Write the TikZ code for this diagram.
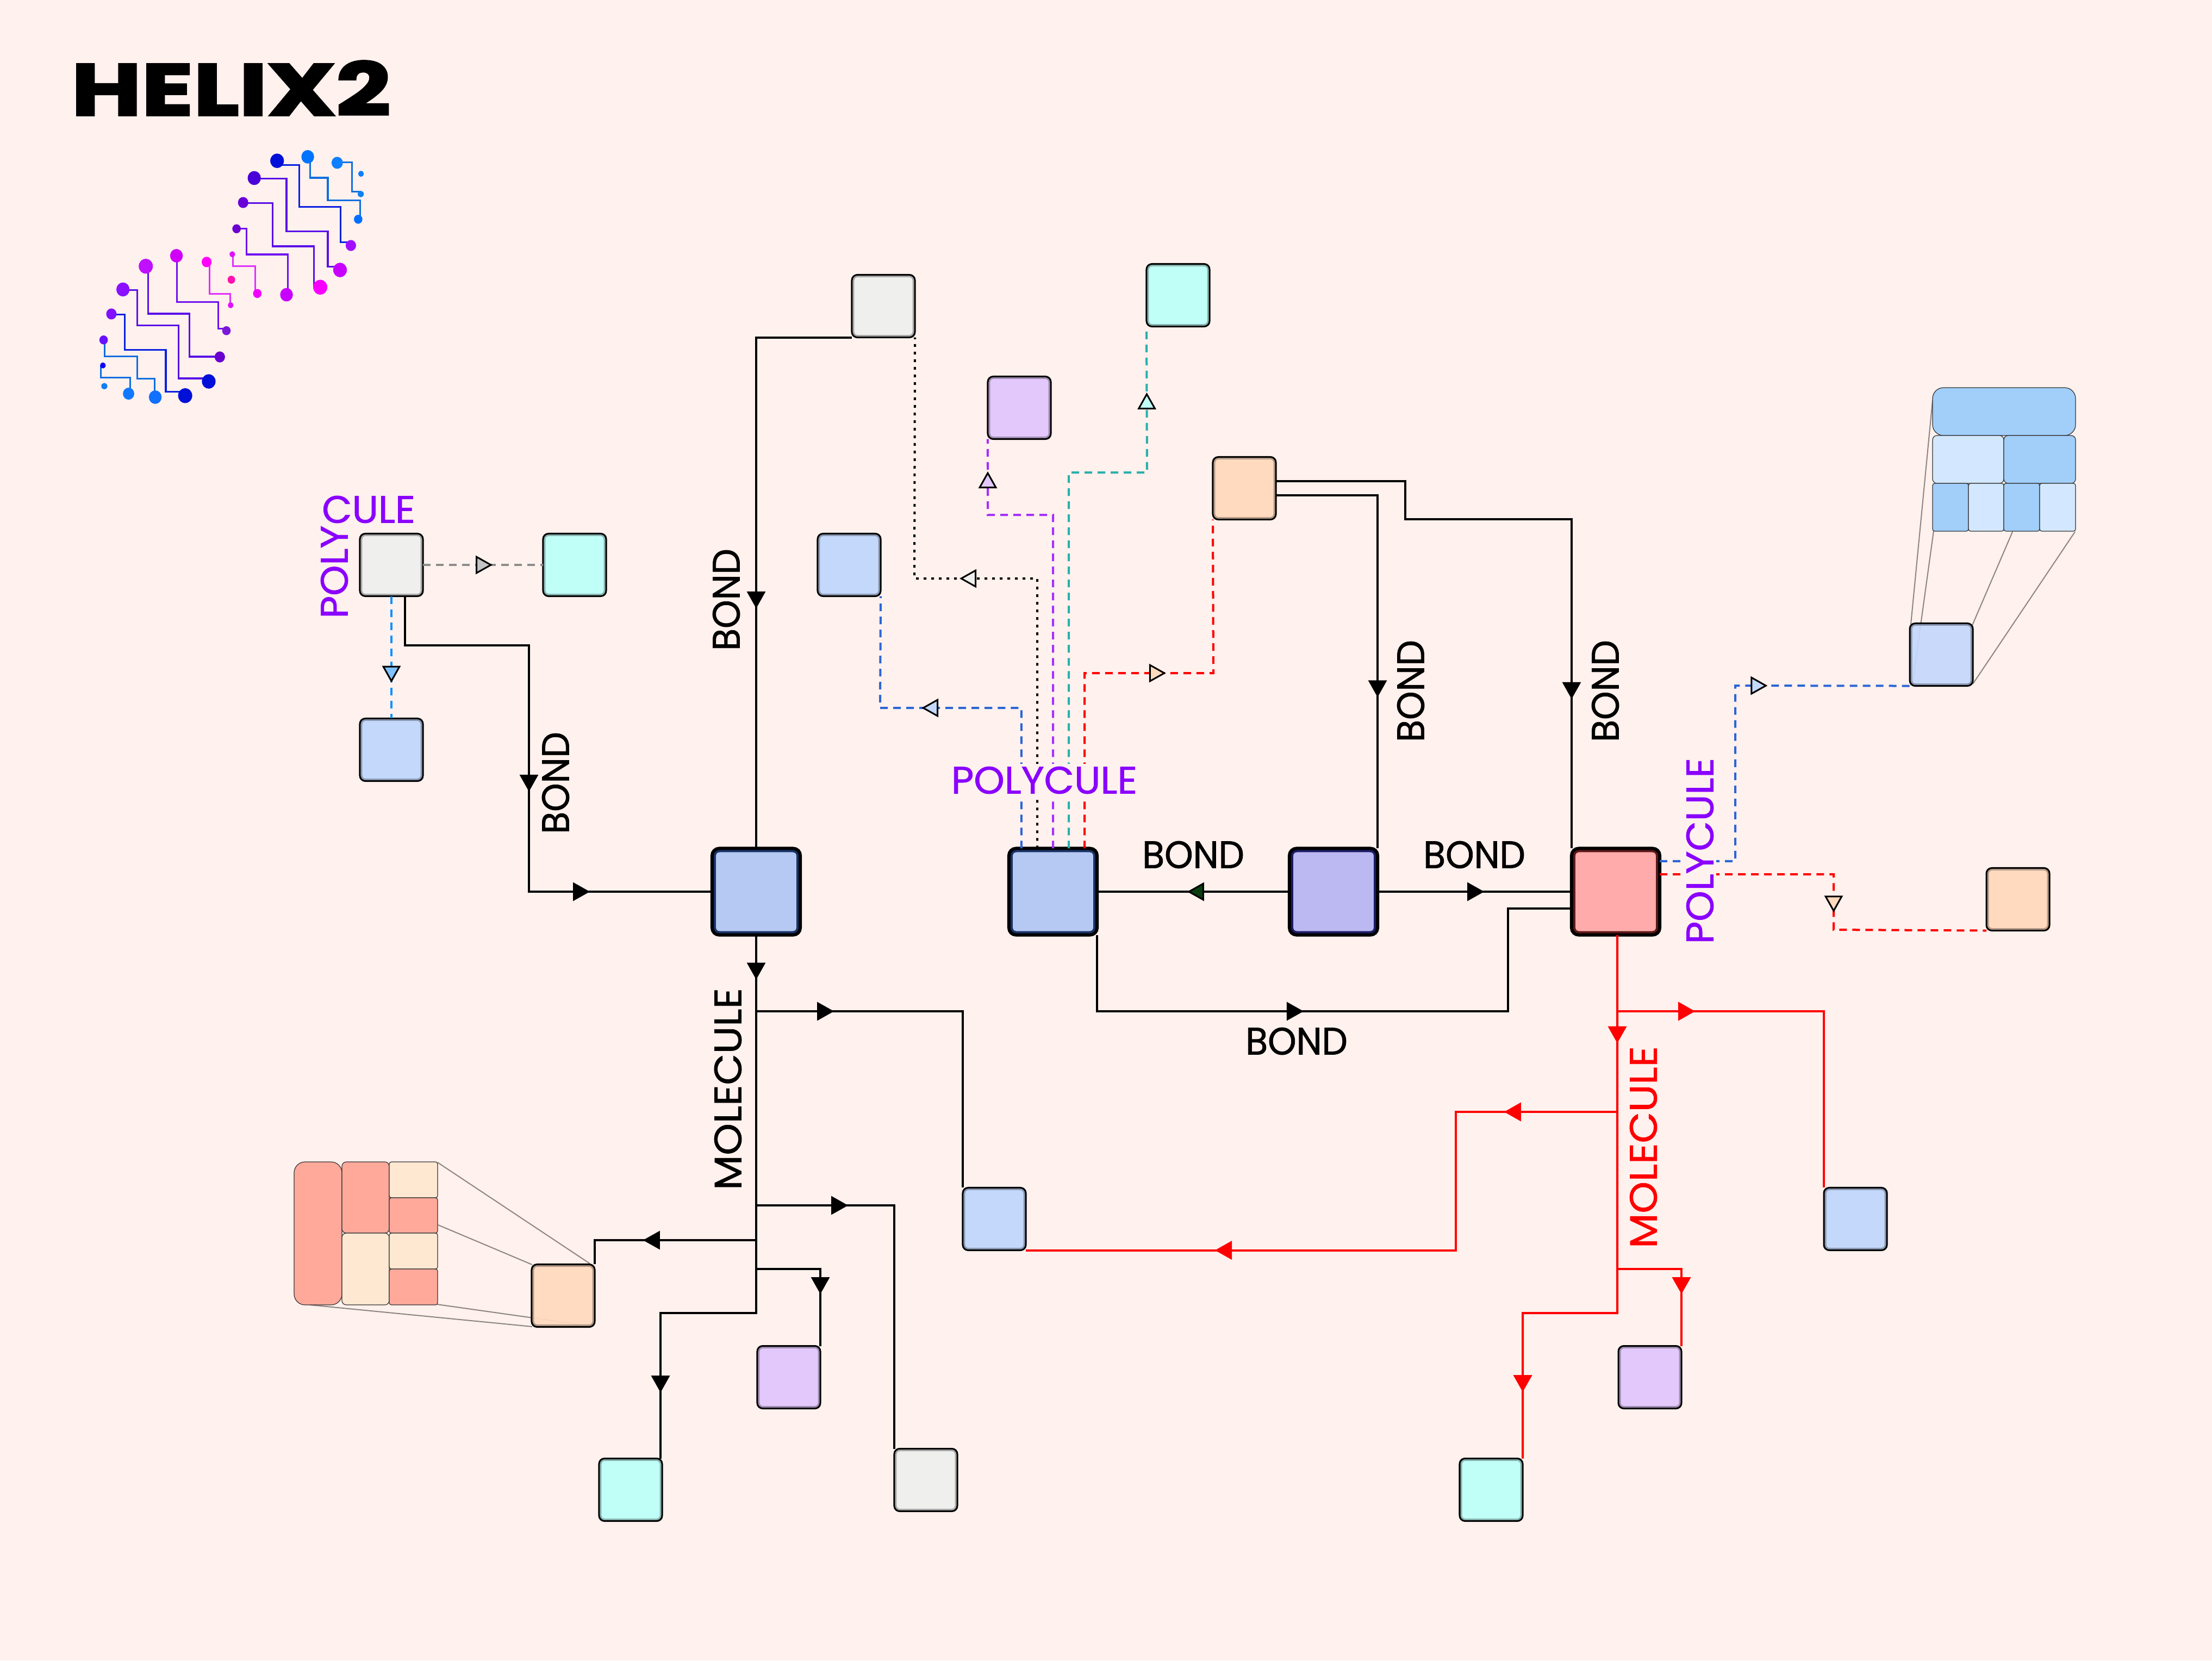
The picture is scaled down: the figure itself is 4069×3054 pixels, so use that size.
\documentclass[tikz,border=0pt]{standalone}
\usepackage{fontspec}
\setmainfont{Poppins}
\newfontfamily\titlefont[FakeBold=3,FakeStretch=1.32]{Poppins}
\newfontfamily\polyfont[FakeBold=1.1,FakeStretch=1.02]{Poppins}
\newfontfamily\bondfont[FakeBold=1.1,FakeStretch=0.95]{Poppins}
\newfontfamily\molfont[FakeBold=1.1,FakeStretch=1.06]{Poppins}
\usetikzlibrary{arrows.meta,decorations.markings}

\definecolor{paper}{HTML}{FFF1ED}
\definecolor{boxblue}{HTML}{C4D8FC}
\definecolor{boxgray}{HTML}{EFEFEE}
\definecolor{boxteal}{HTML}{C0FFF8}
\definecolor{boxpurple}{HTML}{E3C8FB}
\definecolor{boxorange}{HTML}{FFDABF}
\definecolor{bigblue}{HTML}{B5C9F3}
\definecolor{bigviolet}{HTML}{BCB8F2}
\definecolor{bigred}{HTML}{FFABAB}
\definecolor{bandblue}{HTML}{1A3366}
\definecolor{bandviolet}{HTML}{1C1C66}
\definecolor{bandred}{HTML}{5C1818}
\definecolor{cellblue}{HTML}{A2CFFA}
\definecolor{cellpale}{HTML}{D3E8FF}
\definecolor{cellred}{HTML}{FFA99B}
\definecolor{cellcream}{HTML}{FFE8D2}
\definecolor{polyviolet}{HTML}{8A00FF}
\definecolor{darktip}{HTML}{0A3D10}
\definecolor{linkgray}{HTML}{8C8C8C}
\definecolor{tipgray}{HTML}{C4C4C4}
\definecolor{linksky}{HTML}{0A90FF}
\definecolor{tipsky}{HTML}{7FC2FF}
\definecolor{linkblue}{HTML}{2B66D6}
\definecolor{linkpurple}{HTML}{A530FF}
\definecolor{linkteal}{HTML}{2AB0AC}
\definecolor{wireA}{HTML}{0F6FE0}
\definecolor{wireB}{HTML}{0A20E0}
\definecolor{wireC}{HTML}{5A10E8}
\definecolor{wireD}{HTML}{7010F0}
\definecolor{wireE}{HTML}{E030FF}

\newcommand{\logodot}[4]{\fill[#1] (#2,#3) circle[radius=#4];}
\newcommand{\logowire}[2]{\draw[#1, line width=0.032cm] #2;}

\begin{document}
\begin{tikzpicture}[
    x=0.01cm, y=-0.01cm,
    smallbox/.style={draw=black, line width=0.03cm, outer sep=0pt, rounded corners=0.1cm,
                     minimum width=1.16cm, minimum height=1.15cm, fill=#1,
                     path picture={\draw[#1!70!black, line width=0.09cm, rounded corners=0.1cm]
                       (path picture bounding box.south west) rectangle (path picture bounding box.north east);}},
    bigbox/.style 2 args={draw=black, line width=0.06cm, outer sep=0pt, rounded corners=0.13cm,
                     minimum width=1.62cm, minimum height=1.59cm, fill=#1,
                     path picture={\draw[#2, line width=0.14cm, rounded corners=0.13cm]
                       (path picture bounding box.south west) rectangle (path picture bounding box.north east);}},
    cell/.style 2 args={draw=black!80, line width=0.012cm, fill=#1, rounded corners=#2},
    leader/.style={draw=black!45!paper, line width=0.02cm},
    bond/.style={draw=black, line width=0.04cm},
    redbond/.style={draw=red, line width=0.04cm},
    dashline/.style={draw=#1, line width=0.04cm, dash pattern=on 0.14cm off 0.10cm},
    dotline/.style={draw=black, line width=0.04cm, dash pattern=on 0.05cm off 0.09cm},
    tipat/.style 2 args={postaction={decorate, decoration={markings, mark=at position #1cm with
        {\arrow{Triangle[length=0.31cm, width=0.34cm, line width=0.03cm, fill=#2, color=black]}}}}},
    redtip/.style={postaction={decorate, decoration={markings, mark=at position #1cm with
        {\arrow{Triangle[length=0.31cm, width=0.34cm, fill=red, color=red]}}}}},
    polytxt/.style={font=\polyfont\fontsize{20}{20}\selectfont, inner sep=0pt, text=polyviolet},
    bondtxt/.style={font=\bondfont\fontsize{20}{20}\selectfont, inner sep=0pt, text=black},
    moltxt/.style={font=\molfont\fontsize{20}{20}\selectfont, inner sep=0pt, text=#1},
    bgtxt/.style={polytxt, fill=paper!92!white, inner sep=0.05cm}
  ]
  \fill[paper] (0,0) rectangle (4069,3054);
  \useasboundingbox (0,0) rectangle (4069,3054);

  % title and logo
  \node[font=\titlefont\bfseries\fontsize{38}{38}\selectfont, inner sep=0pt] (title) at (425,162) {HELIX2};
  \begin{scope}[shift={(100,60)}, x=0.004337cm, y=-0.004591cm]
    \logowire{wireA}{(1085,497) |- (1160,581) |- (1298,672) -- (1298,745)}
    \logowire{wireA}{(1200,519) -| (1263,637) -- (1298,637)}
    \logowire{wireB}{(945,530) -| (1039,698) -| (1214,838) -- (1258,838)}
    \logowire{wireC}{(848,584) -| (985,796) -| (1160,937) -- (1212,937)}
    \logowire{wireC}{(801,682) -| (926,855) -| (1102,1020)}
    \logowire{wireD}{(773,785) -| (816,888) -| (991,1049)}
    \logowire{wireE}{(758,887) |- (852,935) -- (852,1044)}
    \logowire{wireE}{(659,918) |- (747,1045) -- (747,1091)}
    \logowire{wireD}{(520,893) |- (695,1079) |- (730,1185)}
    \logowire{wireC}{(397,935) |- (573,1125) |- (702,1297)}
    \logowire{wireC}{(291,1030) -| (352,1171) -| (527,1384) -- (655,1384)}
    \logowire{wireB}{(242,1128) -| (298,1269) -| (473,1437) -- (555,1437)}
    \logowire{wireA}{(214,1230) |- (351,1295) |- (426,1385) -- (426,1460)}
    \logowire{wireA}{(198,1332) |- (322,1381) -- (322,1445)}
    \foreach \cx/\cy/\cr/\ccol in {1075/497/27/0073FF, 1289/747/18/006FFF, 1200/521/24/0F7FFF, 1300/646/13/0F80F0,
        1301/565/12/0A80FF, 945/513/29/0010D8, 1258/852/22/A010FF, 848/582/28/4A00D8, 1212/950/29/C800FF,
        801/680/22/6A00D8, 1128/1019/30/F800FF, 773/785/18/6A00D0, 985/1049/27/C800FF, 755/887/12/E010FF,
        861/1044/18/F000FF, 751/989/16/FF10B0, 646/918/21/FF00FF, 748/1091/12/E010FF, 518/893/27/D000F8,
        730/1193/18/7A18D8, 388/935/30/C010FF, 702/1298/22/6A00D0, 291/1028/28/8A10FF, 655/1396/29/0010D8,
        242/1126/22/8010FF, 555/1453/30/0010D8, 209/1230/18/6A10FF, 428/1459/27/1070FF, 206/1332/12/1000FF,
        315/1445/24/1078FF, 212/1415/13/1080F0} {
      \definecolor{dotcol}{HTML}{\ccol}
      \logodot{dotcol}{\cx}{\cy}{\cr}
    }
  \end{scope}

  % blocks
  \node[bigbox={bigblue}{bandblue}] (b1) at (1391,1640) {};
  \node[bigbox={bigblue}{bandblue}] (b2) at (1937,1640) {};
  \node[bigbox={bigviolet}{bandviolet}] (b3) at (2453,1640) {};
  \node[bigbox={bigred}{bandred}] (b4) at (2972,1640) {};

  \node[smallbox=boxgray] (grayTop) at (1625,563) {};
  \node[smallbox=boxteal] (tealTop) at (2167,543) {};
  \node[smallbox=boxpurple] (purpleA) at (1875,750) {};
  \node[smallbox=boxorange] (orangeA) at (2289,898) {};
  \node[smallbox=boxblue] (blueA) at (1562,1039) {};
  \node[smallbox=boxgray] (grayB) at (720,1039) {};
  \node[smallbox=boxteal] (tealB) at (1057,1039) {};
  \node[smallbox=boxblue] (blueB) at (720,1379) {};
  \node[smallbox=boxblue] (blueC) at (1829,2242) {};
  \node[smallbox=boxgray] (grayC) at (1703,2722) {};
  \node[smallbox=boxpurple] (purpleB) at (1451,2533) {};
  \node[smallbox=boxteal] (tealC) at (1160,2740) {};
  \node[smallbox=boxblue] (blueD) at (3413,2242) {};
  \node[smallbox=boxpurple] (purpleC) at (3035,2533) {};
  \node[smallbox=boxteal] (tealD) at (2743,2740) {};
  \node[smallbox=boxorange] (orangeC) at (3712,1654) {};

  % zoomed cells, top right
  \draw[leader] (3515,1148) -- (3555,736);
  \draw[leader] (3518,1258) -- (3557,976);
  \draw[leader] (3628,1150) -- (3702,978);
  \draw[leader] (3629,1258) -- (3817,978);
  \node[smallbox=boxblue, fill opacity=.93] (blueE) at (3571,1204) {};
  \draw[cell={cellblue}{0.2cm}] (3555,713) rectangle (3818,801);
  \draw[cell={cellpale}{0.08cm}] (3555,801) rectangle (3686,889);
  \draw[cell={cellblue}{0.08cm}] (3686,801) rectangle (3818,889);
  \draw[cell={cellblue}{0.04cm}] (3555,889) rectangle (3621,977);
  \draw[cell={cellpale}{0.04cm}] (3621,889) rectangle (3686,977);
  \draw[cell={cellblue}{0.04cm}] (3686,889) rectangle (3752,977);
  \draw[cell={cellpale}{0.04cm}] (3752,889) rectangle (3818,977);

  % zoomed cells, bottom left
  \draw[leader] (805,2138) -- (1085,2324);
  \draw[leader] (806,2253) -- (979,2326);
  \draw[leader] (804,2399) -- (1080,2438);
  \draw[leader] (570,2400) -- (979,2440);
  \node[smallbox=boxorange, fill opacity=.93] (orangeB) at (1036,2383) {};
  \draw[cell={cellred}{0.2cm}] (541,2137) rectangle (629,2400);
  \draw[cell={cellred}{0.08cm}] (629,2137) rectangle (716,2268);
  \draw[cell={cellcream}{0.08cm}] (629,2268) rectangle (716,2400);
  \draw[cell={cellcream}{0.04cm}] (716,2137) rectangle (805,2203);
  \draw[cell={cellred}{0.04cm}] (716,2203) rectangle (805,2268);
  \draw[cell={cellcream}{0.04cm}] (716,2268) rectangle (805,2334);
  \draw[cell={cellred}{0.04cm}] (716,2334) rectangle (805,2400);

  % junctions
  \coordinate (mA) at (1391,1860);
  \coordinate (mB) at (1391,2217);
  \coordinate (mC) at (1391,2281);
  \coordinate (mD) at (1391,2334);
  \coordinate (mE) at (1391,2415);
  \coordinate (rA) at (2975,1860);
  \coordinate (rB) at (2975,2045);
  \coordinate (rD) at (2975,2334);
  \coordinate (rE) at (2975,2415);

  % bonds
  \draw[bond, tipat={6.74}{black}] (grayTop.south west) -| (b1.north);
  \draw[bond, tipat={5.87}{black}, tipat={8.83}{black}] ([xshift=0.25cm]grayB.south) |- (973,1187) |- (b1.west);
  \draw[bond, tipat={9.44}{black}] ([yshift=0.13cm]orangeA.east) -| (2585,955) -| (b4.north west);
  \draw[bond, tipat={5.58}{black}] ([yshift=-0.13cm]orangeA.east) -| (b3.north east);
  \draw[bond, tipat={1.88}{darktip}] (b3.west) -- (b2.east);
  \draw[bond, tipat={1.96}{black}] (b3.east) -- (b4.west);
  \draw[bond, tipat={5.20}{black}] (b2.south east) |- (2774,1860) |- ([yshift=-0.31cm]b4.west);

  % molecule, black
  \draw[bond, tipat={0.82}{black}, tipat={10.17}{black}] (b1.south) -- (mE) -| ([xshift=0.55cm]tealC.north);
  \draw[bond, tipat={1.43}{black}] (mA) -| (blueC.north west);
  \draw[bond, tipat={1.69}{black}] (mB) -| (grayC.north west);
  \draw[bond, tipat={2.08}{black}] (mC) -| (orangeB.north east);
  \draw[bond, tipat={1.64}{black}] (mD) -| (purpleB.north east);

  % molecule, red
  \draw[redbond, redtip={1.99}, redtip={10.14}] ([xshift=0.03cm]b4.south) -- (rE) -| (tealD.north east);
  \draw[redbond, redtip={1.43}] (rA) -| (blueD.north west);
  \draw[redbond, redtip={2.08}, redtip={9.94}] (rB) -- (2678,2045) |- (blueC.south east);
  \draw[redbond, redtip={1.64}] (rD) -| (purpleC.north east);

  % polycule links
  \draw[dashline=linkgray, tipat={1.28}{tipgray}] (grayB.east) -- (tealB.west);
  \draw[dashline=linksky, tipat={1.59}{tipsky}] (grayB.south) -- (blueB.north);
  \draw[dashline=linkblue, tipat={4.42}{boxblue}] ([xshift=-0.58cm]b2.north) |- (1619,1302) -- (blueA.south east);
  \draw[dotline, tipat={6.39}{boxgray}] ([xshift=-0.29cm]b2.north) |- (1682,1064) -- (grayTop.south east);
  \draw[dashline=linkpurple, tipat={8.13}{boxpurple}] (b2.north) |- (1817,947) -- (purpleA.south west);
  \draw[dashline=linkteal, tipat={9.82}{boxteal}] ([xshift=0.29cm]b2.north) |- (2110,869) -- (tealTop.south west);
  \draw[dashline=red, tipat={4.72}{boxorange}] ([xshift=0.58cm]b2.north) |- (2232,1238) -- (orangeA.south west);
  \draw[dashline=linkblue, tipat={5.21}{boxblue}] ([yshift=0.56cm]b4.east) -| (3192,1261) -- (blueE.south west);
  \draw[dashline=red, tipat={3.90}{boxorange}] ([yshift=0.32cm]b4.east) -| (3373,1710) -- (orangeC.south west);

  % labels
  \node[polytxt, rotate=90] (lPolyA) at (615,1052) {POLY};
  \node[polytxt] (lPolyB) at (678,937) {CULE};
  \node[bgtxt] (lPolyC) at (1921,1435) {POLYCULE};
  \node[bgtxt, rotate=90] (lPolyD) at (3127,1565) {POLYCULE};
  \node[bondtxt, rotate=90] (lBondA) at (1336,1103) {BOND};
  \node[bondtxt, rotate=90] (lBondB) at (1022,1440) {BOND};
  \node[bondtxt, rotate=90] (lBondC) at (2595,1271) {BOND};
  \node[bondtxt, rotate=90] (lBondD) at (2953,1271) {BOND};
  \node[bondtxt] (lBondE) at (2195,1572) {BOND};
  \node[bondtxt] (lBondF) at (2712,1572) {BOND};
  \node[bondtxt] (lBondG) at (2385,1915) {BOND};
  \node[moltxt=black, rotate=90] (lMolA) at (1339,2003) {MOLECULE};
  \node[moltxt=red, rotate=90] (lMolB) at (3023,2110) {MOLECULE};
\end{tikzpicture}
\end{document}
